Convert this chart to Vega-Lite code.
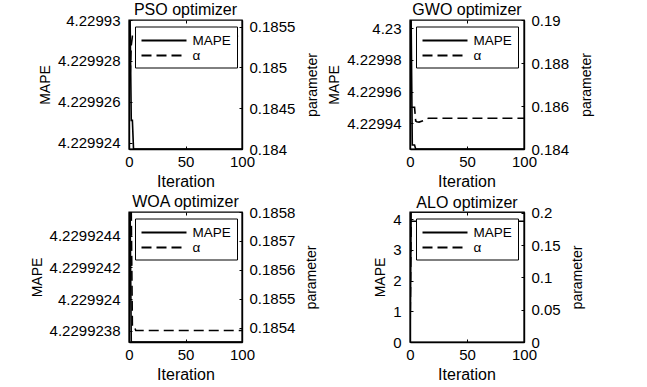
{
  "$schema": "https://vega.github.io/schema/vega-lite/v6.json",
  "padding": {"left": 29, "top": 1, "right": 5, "bottom": 5},
  "background": "white",
  "datasets": {
    "pso": [
      {"iter": 1, "MAPE": 4.22993, "alpha": 0.1849},
      {"iter": 2, "MAPE": 4.2299251, "alpha": 0.18527},
      {"iter": 3, "MAPE": 4.2299251, "alpha": 0.18538},
      {"iter": 4, "MAPE": 4.2299237, "alpha": 0.18538},
      {"iter": 5, "MAPE": 4.2299237, "alpha": 0.18538},
      {"iter": 10, "MAPE": 4.2299237, "alpha": 0.18538},
      {"iter": 20, "MAPE": 4.2299237, "alpha": 0.18538},
      {"iter": 30, "MAPE": 4.2299237, "alpha": 0.18538},
      {"iter": 40, "MAPE": 4.2299237, "alpha": 0.18538},
      {"iter": 50, "MAPE": 4.2299237, "alpha": 0.18538},
      {"iter": 60, "MAPE": 4.2299237, "alpha": 0.18538},
      {"iter": 70, "MAPE": 4.2299237, "alpha": 0.18538},
      {"iter": 80, "MAPE": 4.2299237, "alpha": 0.18538},
      {"iter": 90, "MAPE": 4.2299237, "alpha": 0.18538},
      {"iter": 100, "MAPE": 4.2299237, "alpha": 0.18538}
    ],
    "gwo": [
      {"iter": 1, "MAPE": 4.2300052, "alpha": 0.18594},
      {"iter": 2, "MAPE": 4.2299263, "alpha": 0.18594},
      {"iter": 3, "MAPE": 4.2299263, "alpha": 0.18594},
      {"iter": 4, "MAPE": 4.2299263, "alpha": 0.18594},
      {"iter": 5, "MAPE": 4.2299238, "alpha": 0.1853},
      {"iter": 6, "MAPE": 4.2299238, "alpha": 0.18527},
      {"iter": 8, "MAPE": 4.2299238, "alpha": 0.18525},
      {"iter": 12, "MAPE": 4.2299238, "alpha": 0.18532},
      {"iter": 16, "MAPE": 4.2299238, "alpha": 0.18543},
      {"iter": 20, "MAPE": 4.2299238, "alpha": 0.18543},
      {"iter": 30, "MAPE": 4.2299238, "alpha": 0.18543},
      {"iter": 40, "MAPE": 4.2299238, "alpha": 0.18543},
      {"iter": 50, "MAPE": 4.2299238, "alpha": 0.18543},
      {"iter": 60, "MAPE": 4.2299238, "alpha": 0.18543},
      {"iter": 70, "MAPE": 4.2299238, "alpha": 0.18543},
      {"iter": 80, "MAPE": 4.2299238, "alpha": 0.18543},
      {"iter": 90, "MAPE": 4.2299238, "alpha": 0.18543},
      {"iter": 100, "MAPE": 4.2299238, "alpha": 0.18543}
    ],
    "woa": [
      {"iter": 1, "MAPE": 4.22992455, "alpha": 0.1858},
      {"iter": 2, "MAPE": 4.22992373, "alpha": 0.1858},
      {"iter": 3, "MAPE": 4.22992373, "alpha": 0.1854},
      {"iter": 5, "MAPE": 4.22992373, "alpha": 0.1854},
      {"iter": 6, "MAPE": 4.22992373, "alpha": 0.18539},
      {"iter": 10, "MAPE": 4.22992373, "alpha": 0.18539},
      {"iter": 20, "MAPE": 4.22992373, "alpha": 0.18539},
      {"iter": 30, "MAPE": 4.22992373, "alpha": 0.18539},
      {"iter": 40, "MAPE": 4.22992373, "alpha": 0.18539},
      {"iter": 50, "MAPE": 4.22992373, "alpha": 0.18539},
      {"iter": 60, "MAPE": 4.22992373, "alpha": 0.18539},
      {"iter": 70, "MAPE": 4.22992373, "alpha": 0.18539},
      {"iter": 80, "MAPE": 4.22992373, "alpha": 0.18539},
      {"iter": 90, "MAPE": 4.22992373, "alpha": 0.18539},
      {"iter": 100, "MAPE": 4.22992373, "alpha": 0.18539}
    ],
    "alo": [
      {"iter": 0, "MAPE": 0, "alpha": 0},
      {"iter": 1, "MAPE": 4.22993, "alpha": 0.1871},
      {"iter": 10, "MAPE": 4.22993, "alpha": 0.1871},
      {"iter": 20, "MAPE": 4.22993, "alpha": 0.1871},
      {"iter": 30, "MAPE": 4.22993, "alpha": 0.1871},
      {"iter": 40, "MAPE": 4.22993, "alpha": 0.1871},
      {"iter": 50, "MAPE": 4.22993, "alpha": 0.1871},
      {"iter": 60, "MAPE": 4.22993, "alpha": 0.1871},
      {"iter": 70, "MAPE": 4.22993, "alpha": 0.1871},
      {"iter": 80, "MAPE": 4.22993, "alpha": 0.1871},
      {"iter": 90, "MAPE": 4.22993, "alpha": 0.1871},
      {"iter": 100, "MAPE": 4.22993, "alpha": 0.1871}
    ]
  },
  "columns": 2,
  "spacing": {"row": 63, "column": 168},
  "bounds": "flush",
  "resolve": {"scale": {"strokeDash": "independent"}, "legend": {"strokeDash": "independent"}},
  "concat": [
    {
      "width": 113, "height": 129,
      "title": {"text": "PSO optimizer"},
      "data": {"name": "pso"},
      "layer": [
        {"mark": {"type": "line", "clip": true, "strokeWidth": 1.6, "color": "black"},
         "encoding": {
           "x": {"field": "iter", "type": "quantitative", "scale": {"domain": [0, 100], "nice": false}, "axis": {"values": [0, 50, 100], "title": "Iteration"}},
           "y": {"field": "MAPE", "type": "quantitative", "scale": {"domain": [4.2299237, 4.22993], "nice": false, "zero": false}, "axis": {"orient": "left", "values": [4.229924, 4.229926, 4.229928, 4.22993], "format": ".7~g", "title": "MAPE", "titleX": -79.3, "titleY": 64.5}},
           "strokeDash": {"datum": "MAPE", "type": "nominal", "scale": {"domain": ["MAPE", "α"], "range": [[1, 0], [10, 5]]}}
         }},
        {"mark": {"type": "line", "clip": true, "strokeWidth": 1.6, "color": "black"},
         "encoding": {
           "x": {"field": "iter", "type": "quantitative", "axis": {"orient": "top", "labels": false, "title": null, "domain": false, "values": [0, 50, 100]}},
           "y": {"field": "alpha", "type": "quantitative", "scale": {"domain": [0.184, 0.18558], "nice": false, "zero": false}, "axis": {"orient": "right", "values": [0.184, 0.1845, 0.185, 0.1855], "format": ".4~g", "title": "parameter", "titleX": 74.8, "titleY": 64.5}},
           "strokeDash": {"datum": "α", "type": "nominal"}
         }}
      ],
      "resolve": {"scale": {"y": "independent"}, "axis": {"x": "independent"}}
    },
    {
      "width": 114, "height": 129,
      "title": {"text": "GWO optimizer"},
      "data": {"name": "gwo"},
      "layer": [
        {"mark": {"type": "line", "clip": true, "strokeWidth": 1.6, "color": "black"},
         "encoding": {
           "x": {"field": "iter", "type": "quantitative", "scale": {"domain": [0, 100], "nice": false}, "axis": {"values": [0, 50, 100], "title": "Iteration"}},
           "y": {"field": "MAPE", "type": "quantitative", "scale": {"domain": [4.2299238, 4.2300052], "nice": false, "zero": false}, "axis": {"orient": "left", "values": [4.22994, 4.22996, 4.22998, 4.23], "format": ".6~g", "title": "MAPE", "titleX": -72, "titleY": 64.5}},
           "strokeDash": {"datum": "MAPE", "type": "nominal", "scale": {"domain": ["MAPE", "α"], "range": [[1, 0], [10, 5]]}}
         }},
        {"mark": {"type": "line", "clip": true, "strokeWidth": 1.6, "color": "black"},
         "encoding": {
           "x": {"field": "iter", "type": "quantitative", "axis": {"orient": "top", "labels": false, "title": null, "domain": false, "values": [0, 50, 100]}},
           "y": {"field": "alpha", "type": "quantitative", "scale": {"domain": [0.184, 0.19], "nice": false, "zero": false}, "axis": {"orient": "right", "values": [0.184, 0.186, 0.188, 0.19], "format": ".3~g", "title": "parameter", "titleX": 66, "titleY": 64.5}},
           "strokeDash": {"datum": "α", "type": "nominal"}
         }}
      ],
      "resolve": {"scale": {"y": "independent"}, "axis": {"x": "independent"}}
    },
    {
      "width": 113, "height": 130,
      "title": {"text": "WOA optimizer"},
      "data": {"name": "woa"},
      "layer": [
        {"mark": {"type": "line", "clip": true, "strokeWidth": 1.6, "color": "black"},
         "encoding": {
           "x": {"field": "iter", "type": "quantitative", "scale": {"domain": [0, 100], "nice": false}, "axis": {"values": [0, 50, 100], "title": "Iteration"}},
           "y": {"field": "MAPE", "type": "quantitative", "scale": {"domain": [4.22992373, 4.22992455], "nice": false, "zero": false}, "axis": {"orient": "left", "values": [4.2299238, 4.229924, 4.2299242, 4.2299244], "format": ".8~g", "title": "MAPE", "titleX": -87.7, "titleY": 65}},
           "strokeDash": {"datum": "MAPE", "type": "nominal", "scale": {"domain": ["MAPE", "α"], "range": [[1, 0], [10, 5]]}}
         }},
        {"mark": {"type": "line", "clip": true, "strokeWidth": 1.6, "color": "black"},
         "encoding": {
           "x": {"field": "iter", "type": "quantitative", "axis": {"orient": "top", "labels": false, "title": null, "domain": false, "values": [0, 50, 100]}},
           "y": {"field": "alpha", "type": "quantitative", "scale": {"domain": [0.18535, 0.1858], "nice": false, "zero": false}, "axis": {"orient": "right", "values": [0.1854, 0.1855, 0.1856, 0.1857, 0.1858], "format": ".4~g", "title": "parameter", "titleX": 73.1, "titleY": 65}},
           "strokeDash": {"datum": "α", "type": "nominal"}
         }}
      ],
      "resolve": {"scale": {"y": "independent"}, "axis": {"x": "independent"}}
    },
    {
      "width": 114, "height": 130,
      "title": {"text": "ALO optimizer"},
      "data": {"name": "alo"},
      "layer": [
        {"mark": {"type": "line", "clip": true, "strokeWidth": 1.6, "color": "black"},
         "encoding": {
           "x": {"field": "iter", "type": "quantitative", "scale": {"domain": [0, 100], "nice": false}, "axis": {"values": [0, 50, 100], "title": "Iteration"}},
           "y": {"field": "MAPE", "type": "quantitative", "scale": {"domain": [0, 4.22993], "nice": false, "zero": false}, "axis": {"orient": "left", "values": [0, 1, 2, 3, 4], "format": "~g", "title": "MAPE", "titleX": -25.3, "titleY": 65}},
           "strokeDash": {"datum": "MAPE", "type": "nominal", "scale": {"domain": ["MAPE", "α"], "range": [[1, 0], [10, 5]]}}
         }},
        {"mark": {"type": "line", "clip": true, "strokeWidth": 1.6, "color": "black"},
         "encoding": {
           "x": {"field": "iter", "type": "quantitative", "axis": {"orient": "top", "labels": false, "title": null, "domain": false, "values": [0, 50, 100]}},
           "y": {"field": "alpha", "type": "quantitative", "scale": {"domain": [0, 0.2015], "nice": false, "zero": false}, "axis": {"orient": "right", "values": [0, 0.05, 0.1, 0.15, 0.2], "format": "~g", "title": "parameter", "titleX": 57.8, "titleY": 65}},
           "strokeDash": {"datum": "α", "type": "nominal"}
         }}
      ],
      "resolve": {"scale": {"y": "independent"}, "axis": {"x": "independent"}}
    }
  ],
  "config": {
    "font": "Liberation Sans",
    "view": {"stroke": "black", "strokeWidth": 1.4},
    "axis": {
      "domainColor": "black", "tickColor": "black", "labelColor": "black", "titleColor": "black",
      "labelFont": "Liberation Sans", "labelFontSize": 15, "titleFont": "Liberation Sans", "titleFontWeight": "normal",
      "grid": false, "labelFlush": false, "labelOverlap": false, "tickSize": -3, "domainWidth": 1.4
    },
    "axisLeft": {"labelPadding": 12, "titleFontSize": 14, "titleAngle": 270, "titleBaseline": "alphabetic", "titleAlign": "center"},
    "axisRight": {"labelPadding": 10, "titleFontSize": 14, "titleAngle": 270, "titleBaseline": "alphabetic", "titleAlign": "center"},
    "axisBottom": {"labelPadding": 20, "labelBaseline": "alphabetic", "titleFontSize": 16, "titleBaseline": "alphabetic", "titleY": 37.5, "titleX": 56.5, "titleAlign": "center"},
    "title": {"fontSize": 16, "fontWeight": "normal", "font": "Liberation Sans", "frame": "group", "baseline": "alphabetic", "offset": 0, "dy": 9.3, "color": "black"},
    "legend": {
      "title": null, "orient": "none", "legendX": 6, "legendY": 6.5,
      "symbolType": "M-1,0H5", "symbolSize": 225, "symbolStrokeWidth": 2, "symbolStrokeColor": "black",
      "labelFont": "Liberation Sans", "labelFontSize": 13.5, "labelColor": "black", "labelOffset": 35,
      "padding": 5.5, "rowPadding": 0, "fillColor": "white", "strokeColor": "black"
    }
  }
}
